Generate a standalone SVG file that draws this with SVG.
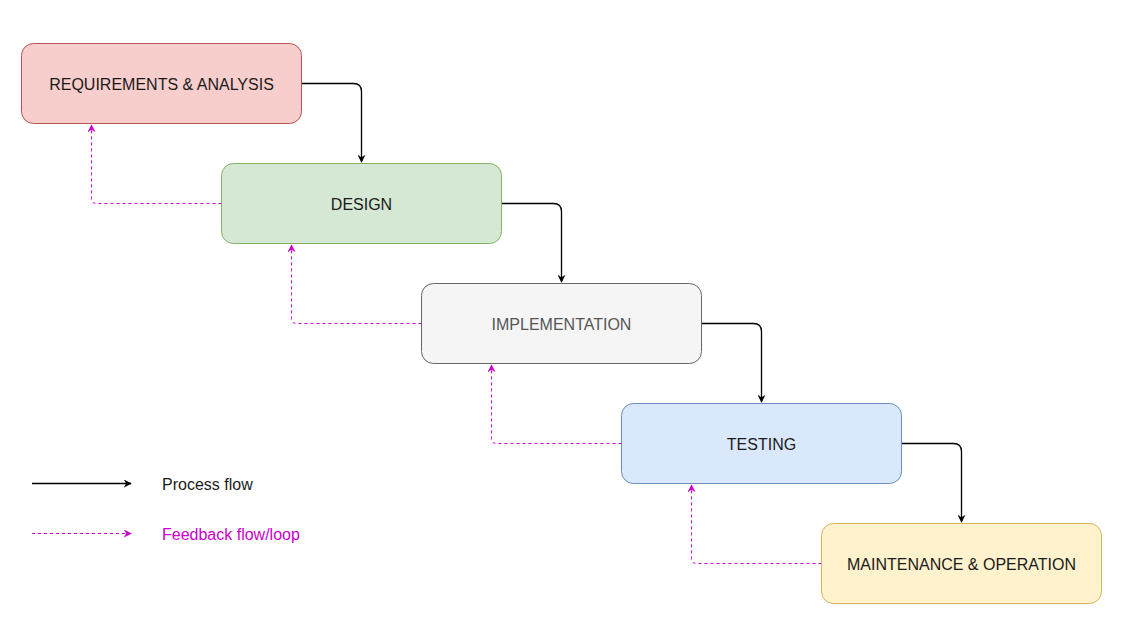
<svg xmlns="http://www.w3.org/2000/svg" width="1130" height="630" viewBox="0 0 1130 630">
<style>
.box{stroke-width:1}
.lbl{font-family:"Liberation Sans",Arial,sans-serif;font-size:16px;text-anchor:middle;dominant-baseline:central;fill:#1a1a1a}
.leg{font-family:"Liberation Sans",Arial,sans-serif;font-size:16px;dominant-baseline:central}
.flow{fill:none;stroke:#000;stroke-width:1.3}
.fb{fill:none;stroke:#CC00CC;stroke-width:1;stroke-dasharray:3 3}
</style>
<defs>
<marker id="ah" viewBox="0 0 10 10" refX="9" refY="5" markerWidth="8" markerHeight="8" markerUnits="userSpaceOnUse" orient="auto">
<path d="M0,0 L10,5 L0,10 L3,5 Z" fill="#000"/>
</marker>
<marker id="ahp" viewBox="0 0 10 10" refX="9" refY="5" markerWidth="8" markerHeight="8" markerUnits="userSpaceOnUse" orient="auto">
<path d="M0,0 L10,5 L0,10 L3,5 Z" fill="#CC00CC"/>
</marker>
</defs>
<rect width="1130" height="630" fill="#fff"/>
<g id="connectors">
<path class="flow" d="M301.5,83.5 H353.5 Q361.5,83.5 361.5,91.5 V162" marker-end="url(#ah)"/>
<path class="flow" d="M501.5,203.5 H553.5 Q561.5,203.5 561.5,211.5 V282" marker-end="url(#ah)"/>
<path class="flow" d="M701.5,323.5 H753.5 Q761.5,323.5 761.5,331.5 V402" marker-end="url(#ah)"/>
<path class="flow" d="M901.5,443.5 H953.5 Q961.5,443.5 961.5,451.5 V522" marker-end="url(#ah)"/>
<path class="fb" d="M221.5,203.5 H96.5 Q91.5,203.5 91.5,198.5 V125" marker-end="url(#ahp)"/>
<path class="fb" d="M421.5,323.5 H296.5 Q291.5,323.5 291.5,318.5 V245" marker-end="url(#ahp)"/>
<path class="fb" d="M621.5,443.5 H496.5 Q491.5,443.5 491.5,438.5 V365" marker-end="url(#ahp)"/>
<path class="fb" d="M821.5,563.5 H696.5 Q691.5,563.5 691.5,558.5 V485" marker-end="url(#ahp)"/>
</g>
<g id="n1"><rect class="box" x="21.5" y="43.5" width="280" height="80" rx="12" fill="#f8cecc" stroke="#b85450"/><text class="lbl" x="161.5" y="84">REQUIREMENTS &amp; ANALYSIS</text></g>
<g id="n2"><rect class="box" x="221.5" y="163.5" width="280" height="80" rx="12" fill="#d5e8d4" stroke="#82b366"/><text class="lbl" x="361.5" y="204">DESIGN</text></g>
<g id="n3"><rect class="box" x="421.5" y="283.5" width="280" height="80" rx="12" fill="#f5f5f5" stroke="#666666"/><text class="lbl" x="561.5" y="324" style="fill:#555">IMPLEMENTATION</text></g>
<g id="n4"><rect class="box" x="621.5" y="403.5" width="280" height="80" rx="12" fill="#dae8fc" stroke="#6c8ebf"/><text class="lbl" x="761.5" y="444">TESTING</text></g>
<g id="n5"><rect class="box" x="821.5" y="523.5" width="280" height="80" rx="12" fill="#fff2cc" stroke="#d6b656"/><text class="lbl" x="961.5" y="564">MAINTENANCE &amp; OPERATION</text></g>
<g id="legend">
<path class="flow" d="M32,483.5 H131" marker-end="url(#ah)"/>
<text class="leg" x="162" y="484" fill="#1a1a1a">Process flow</text>
<path class="fb" d="M32,533.5 H131" marker-end="url(#ahp)"/>
<text class="leg" x="162" y="534" fill="#CC00CC">Feedback flow/loop</text>
</g>
</svg>
